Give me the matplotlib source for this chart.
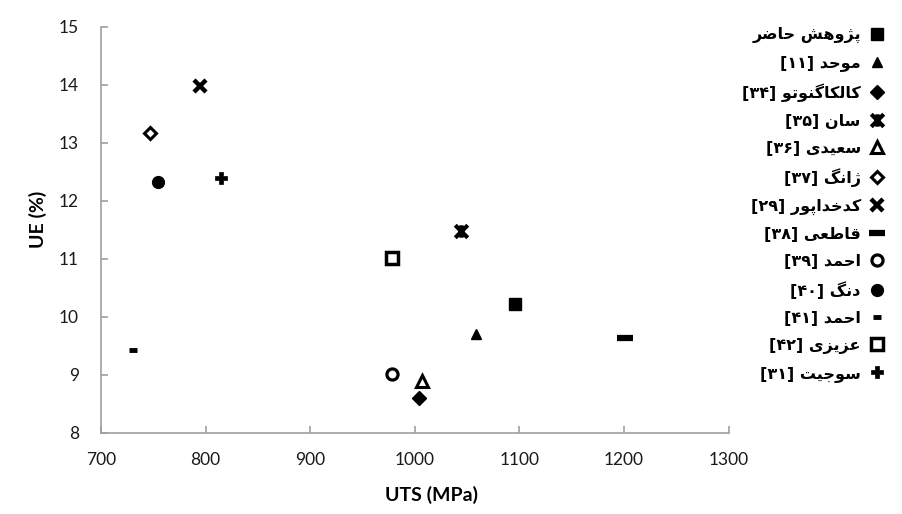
import matplotlib
matplotlib.use("Agg")
import matplotlib.pyplot as plt
from matplotlib.path import Path

# ---------------- data ----------------
labels = [
    "پژوهش حاضر",
    "موحد [۱۱]",
    "کالکاگنوتو [۳۴]",
    "سان [۳۵]",
    "سعیدی [۳۶]",
    "ژانگ [۳۷]",
    "کدخداپور [۲۹]",
    "قاطعی [۳۸]",
    "احمد [۳۹]",
    "دنگ [۴۰]",
    "احمد [۴۱]",
    "عزیزی [۴۲]",
    "سوجیت [۳۱]",
]
uts = [1096, 1058, 1004, 1044, 1007, 747, 795, 1201, 978, 754, 731, 978, 815]
ue = [10.22, 9.70, 8.60, 11.48, 8.89, 13.17, 13.98, 9.63, 9.01, 12.32, 9.43, 11.01, 12.39]
x_ticks = [700, 800, 900, 1000, 1100, 1200, 1300]
y_ticks = [8, 9, 10, 11, 12, 13, 14, 15]

# ---------------- Persian shaping (presentation forms) ----------------
FORMS = {  # isolated, final, initial, medial
    "\u0627": ("\uFE8D", "\uFE8E", None, None),
    "\u0628": ("\uFE8F", "\uFE90", "\uFE91", "\uFE92"),
    "\u062A": ("\uFE95", "\uFE96", "\uFE97", "\uFE98"),
    "\u062C": ("\uFE9D", "\uFE9E", "\uFE9F", "\uFEA0"),
    "\u062D": ("\uFEA1", "\uFEA2", "\uFEA3", "\uFEA4"),
    "\u062E": ("\uFEA5", "\uFEA6", "\uFEA7", "\uFEA8"),
    "\u062F": ("\uFEA9", "\uFEAA", None, None),
    "\u0631": ("\uFEAD", "\uFEAE", None, None),
    "\u0632": ("\uFEAF", "\uFEB0", None, None),
    "\u0633": ("\uFEB1", "\uFEB2", "\uFEB3", "\uFEB4"),
    "\u0634": ("\uFEB5", "\uFEB6", "\uFEB7", "\uFEB8"),
    "\u0636": ("\uFEBD", "\uFEBE", "\uFEBF", "\uFEC0"),
    "\u0637": ("\uFEC1", "\uFEC2", "\uFEC3", "\uFEC4"),
    "\u0639": ("\uFEC9", "\uFECA", "\uFECB", "\uFECC"),
    "\u0642": ("\uFED5", "\uFED6", "\uFED7", "\uFED8"),
    "\u0644": ("\uFEDD", "\uFEDE", "\uFEDF", "\uFEE0"),
    "\u0645": ("\uFEE1", "\uFEE2", "\uFEE3", "\uFEE4"),
    "\u0646": ("\uFEE5", "\uFEE6", "\uFEE7", "\uFEE8"),
    "\u0647": ("\uFEE9", "\uFEEA", "\uFEEB", "\uFEEC"),
    "\u0648": ("\uFEED", "\uFEEE", None, None),
    "\u067E": ("\uFB56", "\uFB57", "\uFB58", "\uFB59"),
    "\u0698": ("\uFB8A", "\uFB8B", None, None),
    "\u06A9": ("\uFB8E", "\uFB8F", "\uFB90", "\uFB91"),
    "\u06AF": ("\uFB92", "\uFB93", "\uFB94", "\uFB95"),
    "\u06CC": ("\uFBFC", "\uFBFD", "\uFBFE", "\uFBFF"),
}


def shape_word(w):
    out = []
    n = len(w)
    for i, ch in enumerate(w):
        f = FORMS.get(ch)
        if f is None:
            out.append(ch)
            continue
        prev = w[i - 1] if i > 0 else None
        nxt = w[i + 1] if i < n - 1 else None
        join_prev = prev in FORMS and FORMS[prev][2] is not None
        join_next = nxt in FORMS and f[2] is not None
        if join_prev and join_next:
            out.append(f[3])
        elif join_prev:
            out.append(f[1])
        elif join_next:
            out.append(f[2])
        else:
            out.append(f[0])
    return "".join(out)


def visual(s):
    toks = s.split(" ")
    res = []
    for t in reversed(toks):
        if any(c in FORMS for c in t):
            res.append(shape_word(t)[::-1])
        else:
            res.append(t)
    return " ".join(res)


# ---------------- marker styles ----------------
star_path = Path(
    [(-1, -1), (1, 1), (-1, 1), (1, -1), (0, -1), (0, 1)],
    [Path.MOVETO, Path.LINETO, Path.MOVETO, Path.LINETO, Path.MOVETO, Path.LINETO],
)
styles = [
    dict(marker="s", ms=8, mfc="black", mec="black", mew=1),
    dict(marker="^", ms=7, mfc="black", mec="black", mew=1),
    dict(marker="D", ms=7.5, mfc="black", mec="black", mew=1),
    dict(marker=star_path, ms=9, mfc="none", mec="black", mew=3),
    dict(marker="^", ms=8, mfc="white", mec="black", mew=2.2),
    dict(marker="D", ms=6.5, mfc="white", mec="black", mew=2.2),
    dict(marker="x", ms=8, mfc="none", mec="black", mew=3.2),
    dict(marker="_", ms=11, mfc="black", mec="black", mew=4.5),
    dict(marker="o", ms=8, mfc="white", mec="black", mew=2.3),
    dict(marker="o", ms=8.5, mfc="black", mec="black", mew=1),
    dict(marker="_", ms=6, mfc="black", mec="black", mew=3.5),
    dict(marker="s", ms=9, mfc="white", mec="black", mew=2.5),
    dict(marker="P", ms=9, mfc="black", mec="black", mew=0.5),
]

# ---------------- figure ----------------
fig = plt.figure(figsize=(9.02, 5.14), dpi=100)
ax = fig.add_axes([0.112, 0.1582, 0.8079 - 0.112, 0.948 - 0.1582])

for lab, x, y, st in zip(labels, uts, ue, styles):
    ax.plot([x], [y], linestyle="none", label=visual(lab), clip_on=False, **st)

ax.set_xlim(700, 1300)
ax.set_ylim(8, 15)
ax.set_xticks(x_ticks)
ax.set_yticks(y_ticks)

tick_font = "Lato"
for lbl in ax.get_xticklabels() + ax.get_yticklabels():
    lbl.set_fontfamily(tick_font)
    lbl.set_fontsize(12.5)
    lbl.set_color("#1a1a1a")

for side in ["top", "right"]:
    ax.spines[side].set_visible(False)
for side in ["left", "bottom"]:
    ax.spines[side].set_color("#a0a0a0")
    ax.spines[side].set_linewidth(1.2)
ax.tick_params(axis="both", direction="in", length=5, width=1.2, color="#a0a0a0")
ax.tick_params(axis="x", pad=14)
ax.tick_params(axis="y", pad=16)

ax.set_xlabel("UTS (MPa)", fontsize=14, fontweight="bold", family=tick_font)
ax.set_ylabel("UE (%)", fontsize=14, fontweight="bold", family=tick_font)
ax.xaxis.set_label_coords(0.527, -0.132)
ax.yaxis.set_label_coords(-0.086, 0.526)

leg = fig.legend(
    loc="upper right",
    bbox_to_anchor=(0.995, 0.975),
    frameon=False,
    markerfirst=False,
    handlelength=0.8,
    handletextpad=0.6,
    labelspacing=0.75,
    prop={"family": ["DejaVu Sans"], "weight": "bold", "size": 11.5},
    numpoints=1,
)

fig.savefig("out.png", dpi=100)
